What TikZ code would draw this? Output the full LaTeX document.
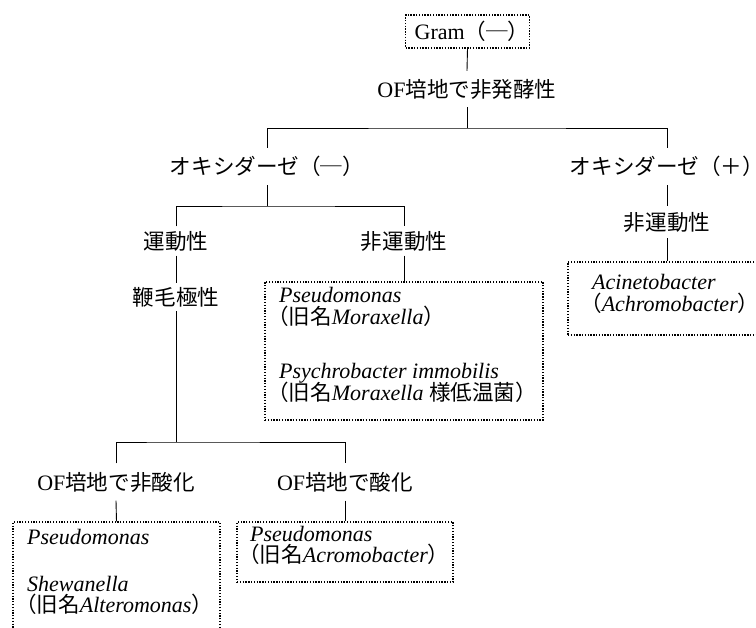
\documentclass[tikz,border=0pt]{standalone}
\usepackage{fontspec}
\setmainfont{Liberation Serif}
\newfontfamily\jpfont{Noto Sans CJK JP}[Scale=0.98]
\newcommand\J[1]{{\jpfont #1}}
\begin{document}
\begin{tikzpicture}[x=1pt,y=-1pt,
  every node/.style={font=\fontsize{22}{22}\selectfont, inner sep=0pt},
  dbox/.style={draw, line width=1.2pt, dash pattern=on 1.3pt off 1.5pt},
  tline/.style={anchor=mid west},
  conn/.style={line width=0.9pt}]
\useasboundingbox (0,0) rectangle (756,628);

% text nodes
\node[dbox, minimum width=117pt, minimum height=33pt] (gram) at (467.5,31.5) {\hspace{9pt}Gram\J{（─）}};
\node[minimum height=36pt] (of) at (467,89) {OF\J{培地で非発酵性}};
\coordinate (h1) at (467,128);
\node[minimum height=37pt] (oxm) at (267,166.5) {\J{オキシダーゼ（─）}};
\node[minimum height=37pt] (oxp) at (667,166.5) {\J{オキシダーゼ（＋）}};
\coordinate (h2) at (267,206);
\node[minimum height=29pt] (mot) at (176,241) {\J{運動性}};
\node[minimum height=29pt] (nmot) at (404,241) {\J{非運動性}};
\node[minimum height=28pt] (flag) at (176,297) {\J{鞭毛極性}};
\node[minimum height=32pt] (nmotp) at (667,222) {\J{非運動性}};
\coordinate (h3) at (176,442);
\node[minimum height=37pt] (ofn) at (116,482) {OF\J{培地で非酸化}};
\node[minimum height=37pt] (ofo) at (345,482) {OF\J{培地で酸化}};

% boxes
\node[dbox, minimum width=278pt, minimum height=138pt] (bnm) at (404,351) {};
\node[dbox, minimum width=198pt, minimum height=73pt] (bac) at (667,298.5) {};
\node[dbox, minimum width=207pt, minimum height=120pt] (bl) at (116.5,582) {};
\node[dbox, minimum width=216pt, minimum height=60pt] (bao) at (345,552) {};

% box contents
\node[tline] (t1) at (279,300) {\textit{Pseudomonas}};
\node[tline] (t2) at (267,322) {\J{（旧名}\textit{Moraxella}\J{）}};
\node[tline] (t3) at (279,376) {\textit{Psychrobacter immobilis}};
\node[tline] (t4) at (267,398) {\J{（旧名}\textit{Moraxella} \J{様低温菌）}};
\node[tline] (t5) at (592,287) {\textit{Acinetobacter}};
\node[tline] (t6) at (580,309) {\J{（}\textit{Achromobacter}\J{）}};
\node[tline] (t7) at (27,542) {\textit{Pseudomonas}};
\node[tline] (t8) at (27,589) {\textit{Shewanella}};
\node[tline] (t9) at (15,610) {\J{（旧名}\textit{Alteromonas}\J{）}};
\node[tline] (t10) at (250,539) {\textit{Pseudomonas}};
\node[tline] (t11) at (238,560) {\J{（旧名}\textit{Acromobacter}\J{）}};

% connectors
\draw[conn] (gram.south) -- (of.north);
\draw[conn] (of.south) -- (h1);
\draw[conn] (oxm.north) |- (h1) -| (oxp.north);
\draw[conn] (oxm.south) -- (h2);
\draw[conn] (mot.north) |- (h2) -| (nmot.north);
\draw[conn] (mot.south) -- (flag.north);
\draw[conn] (nmot.south) -- (bnm.north);
\draw[conn] (oxp.south) -- (nmotp.north);
\draw[conn] (nmotp.south) -- (bac.north);
\draw[conn] (flag.south) -- (h3);
\draw[conn] (ofn.north) |- (h3) -| (ofo.north);
\draw[conn] (ofn.south) -- (bl.north);
\draw[conn] (ofo.south) -- (bao.north);
\end{tikzpicture}
\end{document}
